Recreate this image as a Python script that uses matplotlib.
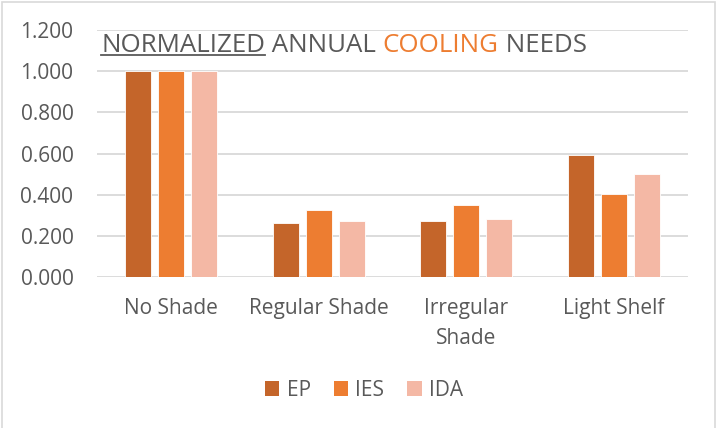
import matplotlib
matplotlib.use('Agg')
import matplotlib.pyplot as plt
import numpy as np
from matplotlib.patches import Patch, Rectangle

# ---------------- data ----------------
categories = ['No Shade', 'Regular Shade', 'Irregular\nShade', 'Light Shelf']
series_names = ['EP', 'IES', 'IDA']
ep_vals = [1.000, 0.261, 0.272, 0.592]
ies_vals = [1.000, 0.325, 0.348, 0.404]
ida_vals = [1.000, 0.272, 0.280, 0.501]
y_ticks = [0.0, 0.2, 0.4, 0.6, 0.8, 1.0, 1.2]

colors = ['#C4652A', '#ED7D31', '#F4B8A5']
grey = '#595959'

plt.rcParams['font.family'] = ['Open Sans', 'DejaVu Sans']

W, H = 716, 428
fig = plt.figure(figsize=(W / 100, H / 100), dpi=100)
fig.patch.set_facecolor('white')

# chart border (Excel chart area)
fig.patches.append(Rectangle((1.5 / W, -0.05), (W - 3) / W, 1.05 - 1.5 / H,
                             transform=fig.transFigure, fill=False,
                             edgecolor='#D9D9D9', linewidth=1.2))

ax = fig.add_axes([97 / W, 1 - 277 / H, (688 - 97) / W, (277 - 30) / H])

x = np.arange(len(categories))
bar_w = 0.176
step = 0.223
for i, (vals, name, c) in enumerate(zip([ep_vals, ies_vals, ida_vals],
                                        series_names, colors)):
    ax.bar(x + (i - 1) * step, vals, width=bar_w, color=c,
           edgecolor='white', linewidth=0.6, zorder=3, label=name)

ax.set_xlim(-0.5, len(categories) - 0.5)
ax.set_ylim(0, 1.2)
ax.set_yticks(y_ticks)
ax.set_yticklabels([f'{v:.3f}' for v in y_ticks])
ax.set_xticks(x)
ax.set_xticklabels(categories, linespacing=1.55)
ax.grid(axis='y', color='#D9D9D9', linewidth=1.3, zorder=0)
ax.set_axisbelow(True)
for s in ax.spines.values():
    s.set_visible(False)
ax.tick_params(axis='both', length=0, colors=grey, labelsize=15)
ax.tick_params(axis='y', pad=17)
ax.tick_params(axis='x', pad=15)

# ---------------- title (mixed colours, underline) ----------------
pieces = [('NORMALIZED', grey), (' ANNUAL ', grey),
          ('COOLING', '#ED7D31'), (' NEEDS', grey)]
target_w = 485
x0, base_y = 101, 52
renderer = fig.canvas.get_renderer()


def draw_title(size):
    texts = []
    cur = x0
    for s, c in pieces:
        t = fig.text(cur / W, 1 - base_y / H, s, color=c, fontsize=size,
                     va='baseline', ha='left')
        bb = t.get_window_extent(renderer)
        cur = bb.x1
        texts.append(t)
    return texts, cur - x0


texts, width = draw_title(20)
size = 20 * target_w / width
for t in texts:
    t.remove()
texts, width = draw_title(size)
bb = texts[0].get_window_extent(renderer)
fig.add_artist(plt.Line2D([bb.x0 / W, bb.x1 / W],
                          [1 - 54.5 / H, 1 - 54.5 / H],
                          transform=fig.transFigure, color=grey, linewidth=1.3))

# ---------------- legend ----------------
handles = [Patch(facecolor=c, edgecolor='none') for c in colors]
fig.legend(handles, series_names, loc='center', ncol=3, frameon=False,
           bbox_to_anchor=(364 / W, 1 - 390 / H), fontsize=15,
           labelcolor=grey, handlelength=0.7, handleheight=0.7,
           handletextpad=0.35, columnspacing=1.1)

fig.savefig('out.png', dpi=100, facecolor='white')
